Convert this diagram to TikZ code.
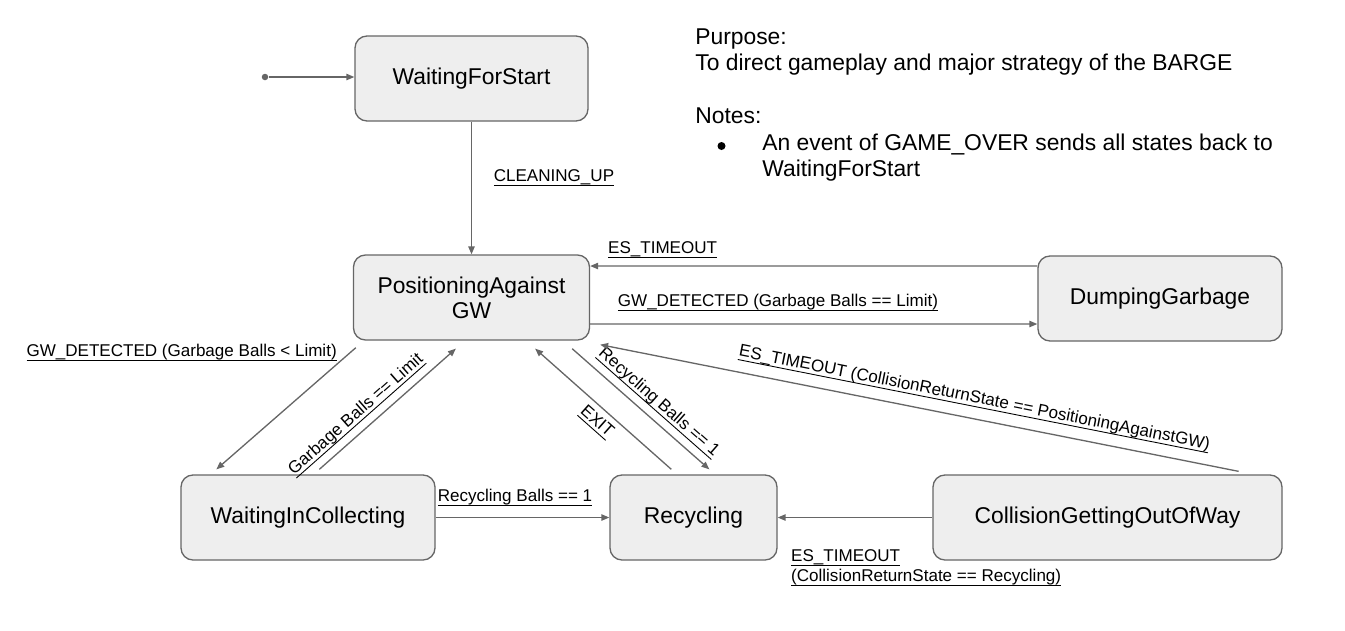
\documentclass[tikz,border=0pt]{standalone}
\usepackage{fontspec}
\setmainfont{Liberation Sans}
\usetikzlibrary{arrows.meta,positioning}
\definecolor{linec}{HTML}{666666}
\definecolor{boxc}{HTML}{EEEEEE}
\newsavebox{\undlbox}
\newcommand{\undl}[1]{\sbox{\undlbox}{#1}\rlap{\rule[-2.3pt]{\wd\undlbox}{0.5pt}}\usebox{\undlbox}}

\begin{document}
\begin{tikzpicture}[>={Triangle[length=4.5pt,width=3.6pt]},
    stanje/.style={rectangle, rounded corners=6.8pt, draw=linec, fill=boxc, line width=0.75pt,
                   minimum height=1.7cm, text centered, align=center, font=\fontsize{13}{14.2}\selectfont},
    prelaz/.style={->, line width=0.75pt, draw=linec},
    lbl/.style={font=\fontsize{9.7}{11.4}\selectfont},
    txt/.style={anchor=base west, inner sep=0pt, font=\fontsize{13}{15}\selectfont}]

    \useasboundingbox (0,0) rectangle (26.9,-12.6);

    \node (start) [circle, fill=linec, inner sep=0pt, minimum size=0.13cm] at (5.3,-1.54) {};
    \node (wfs)  [stanje, minimum width=4.66cm] at (9.43,-1.57)  {WaitingForStart};
    \node (pagw) [stanje, minimum width=4.72cm] at (9.43,-5.95)  {PositioningAgainst\\GW};
    \node (dump) [stanje, minimum width=4.88cm] at (23.2,-5.97)  {DumpingGarbage};
    \node (wic)  [stanje, minimum width=5.08cm] at (6.16,-10.35) {WaitingInCollecting};
    \node (rec)  [stanje, minimum width=3.34cm] at (13.87,-10.35) {Recycling};
    \node (col)  [stanje, minimum width=6.98cm] at (22.15,-10.35) {CollisionGettingOutOfWay};

    % prelazi
    \draw [prelaz] (start) -- (start -| wfs.west);
    \draw [prelaz] (wfs.south) -- node[lbl, right=9pt, pos=0.425] {\undl{CLEANING\_UP}} (pagw.north);
    \draw [prelaz] ([yshift=0.65cm]dump.west) -- node[lbl, above=1pt, pos=0.838] {\undl{ES\_TIMEOUT}} ([yshift=0.63cm]pagw.east);
    \draw [prelaz] ([yshift=-0.53cm]pagw.east) -- node[lbl, above=4pt, pos=0.42] {\undl{GW\_DETECTED (Garbage Balls == Limit)}} ([yshift=-0.51cm]dump.west);
    \draw [prelaz] ([xshift=0.06cm, yshift=-0.14cm]pagw.south west) -- node[lbl, left=4pt, pos=0.04] {\undl{GW\_DETECTED (Garbage Balls < Limit)}} ([xshift=0.72cm, yshift=0.1cm]wic.north west);
    \draw [prelaz] ([xshift=2.78cm, yshift=0.1cm]wic.north west) -- node[lbl, sloped, above=1pt, pos=0.35] {\undl{Garbage Balls == Limit}} ([xshift=2.06cm, yshift=-0.16cm]pagw.south west);
    \draw [prelaz] ([xshift=-0.36cm, yshift=-0.16cm]pagw.south east) -- node[lbl, sloped, above=1pt, pos=0.55] {\undl{Recycling Balls == 1}} ([xshift=2.0cm, yshift=0.1cm]rec.north west);
    \draw [prelaz] ([xshift=1.24cm, yshift=0.1cm]rec.north west) -- node[lbl, sloped, below, pos=0.48] {\undl{EXIT}} ([xshift=-1.1cm, yshift=-0.16cm]pagw.south east);
    \draw [prelaz] ([xshift=-0.88cm, yshift=0.06cm]col.north east) -- node[lbl, sloped, above=3pt, pos=0.42] {\undl{ES\_TIMEOUT (CollisionReturnState == PositioningAgainstGW)}} ([xshift=0.2cm, yshift=-0.08cm]pagw.south east);
    \draw [prelaz] (wic.east) -- node[lbl, above=3pt, pos=0.457] {\undl{Recycling Balls == 1}} (rec.west);
    \draw [prelaz] (col.west) -- node[lbl, at end, anchor=north west, xshift=0.14cm, yshift=-0.52cm, align=left] {\undl{ES\_TIMEOUT}\\\undl{(CollisionReturnState == Recycling)}} (rec.east);

    % napomene
    \node (purp)  [txt] at (13.9,-0.88) {Purpose:};
    \node (purp2) [txt] at (13.9,-1.41) {To direct gameplay and major strategy of the BARGE};
    \node (notes) [txt] at (13.9,-2.46) {Notes:};
    \node (blt)   [circle, fill=black, inner sep=0pt, minimum size=0.16cm] at (14.43,-2.92) {};
    \node (note1) [txt] at (15.24,-3.0) {An event of GAME\_OVER sends all states back to};
    \node (note2) [txt] at (15.24,-3.52) {WaitingForStart};
\end{tikzpicture}
\end{document}
